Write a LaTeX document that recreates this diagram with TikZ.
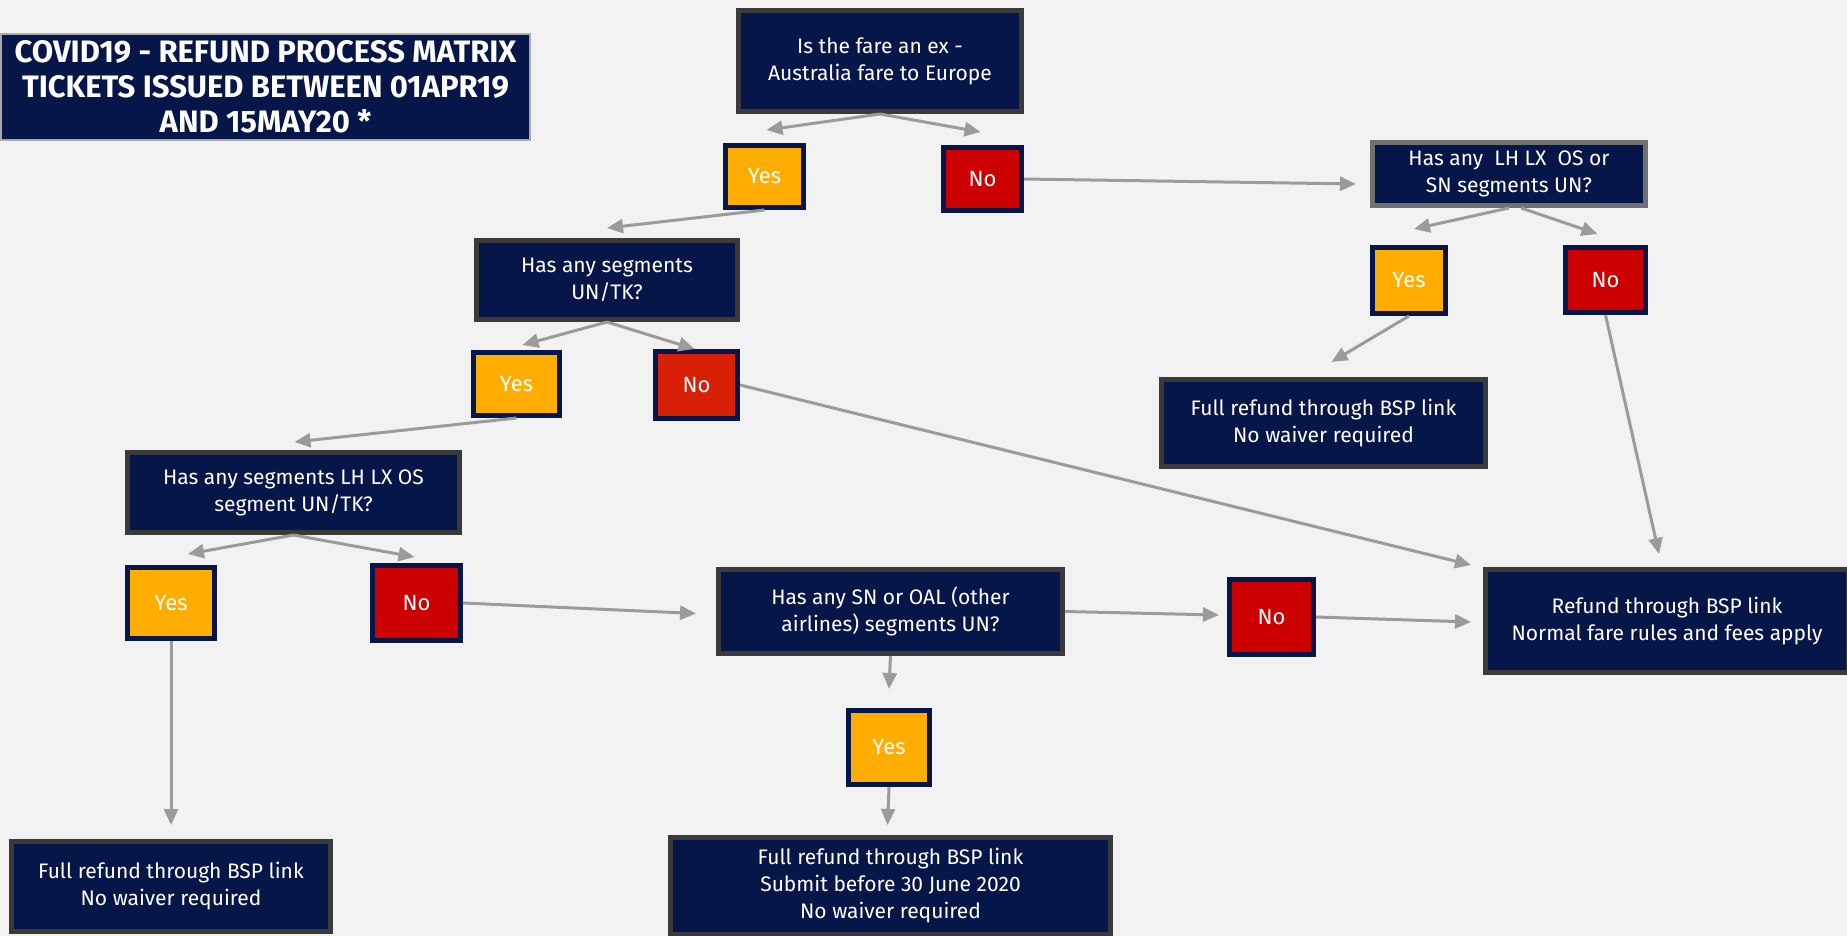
\documentclass[tikz,border=0pt]{standalone}
\usepackage{fontspec}
\setmainfont{Fira Sans}
\usepackage{xcolor}
\usepackage{tikz}
\usetikzlibrary{arrows.meta, positioning, shapes}

\definecolor{navy}{RGB}{7,22,72}
\definecolor{boxgray}{RGB}{58,58,58}
\definecolor{midgray}{RGB}{112,112,112}
\definecolor{yesorange}{RGB}{255,173,0}
\definecolor{nored}{RGB}{204,0,0}
\definecolor{noredtwo}{RGB}{216,32,6}
\definecolor{bggray}{RGB}{242,242,242}
\definecolor{flowgray}{RGB}{155,155,155}

\tikzstyle{question} = [rectangle, draw = boxgray, line width = 2.5pt, fill = navy, text = white, align = center, inner sep = 0pt, font = \fontsize{10.5}{13.5}\selectfont]
\tikzstyle{yesbox} = [rectangle, draw = navy, line width = 2.5pt, fill = yesorange, text = white, inner sep = 0pt, font = \fontsize{11}{13.5}\selectfont]
\tikzstyle{nobox} = [rectangle, draw = navy, line width = 2.5pt, fill = nored, text = white, inner sep = 0pt, font = \fontsize{11}{13.5}\selectfont]
\tikzstyle{flow} = [->, draw = flowgray, line width = 1.5pt]

\begin{document}
\begin{tikzpicture}[x=0.5pt, y=-0.5pt, >={Triangle[length=8pt, width=7pt]}]

% Background
\fill[bggray] (0,0) rectangle (1847,936);
\useasboundingbox (0,0) rectangle (1847,936);

% Title
\node[rectangle, draw = midgray!60, line width = 1pt, fill = navy, text = white, align = center, inner sep = 0pt, minimum width = 264.5pt, minimum height = 53pt, font = \bfseries\fontsize{15.5}{17.5}\selectfont] (title) at (265.5,87) {COVID19 - REFUND PROCESS MATRIX\\TICKETS ISSUED BETWEEN 01APR19\\AND 15MAY20 *};

% Questions
\node[question, minimum width = 141.5pt, minimum height = 50.5pt] (fareq) at (880,61) {Is the fare an ex -\\Australia fare to Europe};
\node[question, draw = midgray, minimum width = 136.5pt, minimum height = 31.5pt] (lhsnq) at (1509,174) {Has any~ LH LX~ OS or\\SN segments UN?};
\node[question, minimum width = 130.5pt, minimum height = 39.5pt] (untkq) at (607,280) {Has any segments\\UN/TK?};
\node[question, minimum width = 166pt, minimum height = 40pt] (lhq) at (293.5,492.5) {Has any segments LH LX OS\\segment UN/TK?};
\node[question, minimum width = 172pt, minimum height = 42pt] (snq) at (890.5,611.5) {Has any SN or OAL (other\\airlines) segments UN?};

% Answers
\node[yesbox, minimum width = 39pt, minimum height = 31pt] (yesa) at (764.5,176.5) {Yes};
\node[nobox, minimum width = 39pt, minimum height = 31.5pt] (noa) at (982.5,179) {No};
\node[yesbox, minimum width = 36.5pt, minimum height = 33pt] (yesb) at (1409,280.5) {Yes};
\node[nobox, minimum width = 40pt, minimum height = 32.5pt] (nob) at (1605.5,280) {No};
\node[yesbox, minimum width = 43pt, minimum height = 31.5pt] (yesc) at (516.5,384) {Yes};
\node[nobox, fill = noredtwo, minimum width = 41pt, minimum height = 33.5pt] (noc) at (696.5,385) {No};
\node[yesbox, minimum width = 43.5pt, minimum height = 35.5pt] (yesd) at (171,603) {Yes};
\node[nobox, minimum width = 44pt, minimum height = 37.5pt] (nod) at (416.5,603) {No};
\node[nobox, minimum width = 42pt, minimum height = 37.5pt] (noe) at (1271.5,617) {No};
\node[yesbox, minimum width = 40.5pt, minimum height = 37pt] (yese) at (889,747.5) {Yes};

% Outcomes
\node[question, minimum width = 162pt, minimum height = 43.5pt] (fullright) at (1323.5,423) {Full refund through BSP link\\No waiver required};
\node[question, minimum width = 181.5pt, minimum height = 51.5pt] (refund) at (1667,621) {Refund through BSP link\\Normal fare rules and fees apply};
\node[question, minimum width = 159.5pt, minimum height = 45pt] (fullleft) at (171,886.5) {Full refund through BSP link\\No waiver required};
\node[question, minimum width = 220pt, minimum height = 48.5pt] (fullmid) at (890.5,886) {Full refund through BSP link\\Submit before 30 June 2020\\No waiver required};

% Connectors
\draw[flow] (fareq.south) -- ([shift={(2,-13)}]yesa.north);
\draw[flow] (fareq.south) -- ([shift={(-2,-13)}]noa.north);
\draw[flow] (noa.east) -- ([shift={(-14,10)}]lhsnq.west);
\draw[flow] (yesa.south) -- ([shift={(0,-10)}]untkq.north);
\draw[flow] (lhsnq.south) -- ([shift={(5,-16)}]yesb.north);
\draw[flow] ([xshift=6pt]lhsnq.south) -- ([shift={(-8,-11)}]nob.north);
\draw[flow] (yesb.south) -- ([shift={(8,-15)}]fullright.north);
\draw[flow] (nob.south) -- ([shift={(-8,-13)}]refund.north);
\draw[flow] (untkq.south) -- ([shift={(6,-5)}]yesc.north);
\draw[flow] (untkq.south) -- ([shift={(-2,0)}]noc.north);
\draw[flow] (yesc.south) -- ([shift={(1,-8)}]lhq.north);
\draw[flow] (noc.east) -- ([shift={(-12,-2)}]refund.north west);
\draw[flow] (lhq.south) -- ([shift={(17,-11)}]yesd.north);
\draw[flow] (lhq.south) -- ([shift={(-2,-6)}]nod.north);
\draw[flow] (yesd.south) -- ([shift={(0,-14)}]fullleft.north);
\draw[flow] (nod.east) -- ([shift={(-20,2)}]snq.west);
\draw[flow] (snq.east) -- ([shift={(-8,-2)}]noe.west);
\draw[flow] (noe.east) -- ([shift={(-12,1)}]refund.west);
\draw[flow] (snq.south) -- ([shift={(0,-19)}]yese.north);
\draw[flow] (yese.south) -- ([shift={(-3,-10)}]fullmid.north);

\end{tikzpicture}
\end{document}
